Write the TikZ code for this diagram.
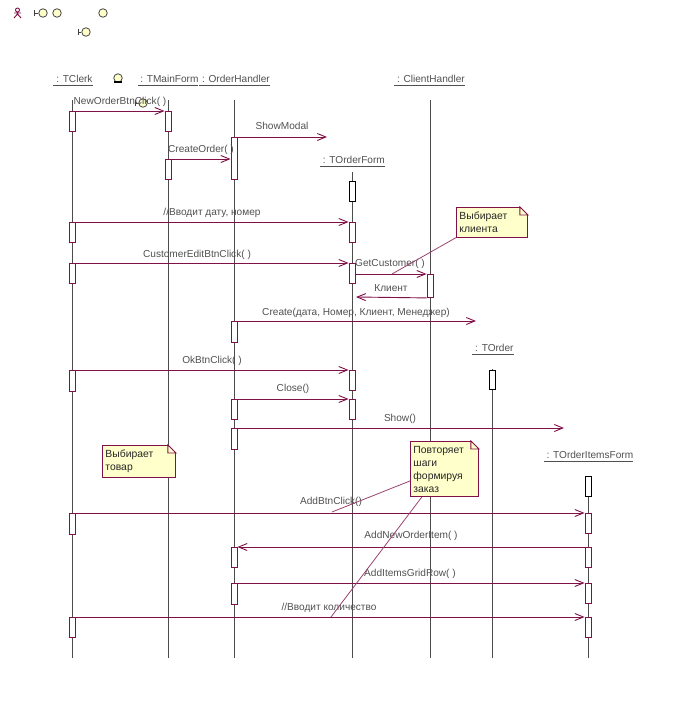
\documentclass[tikz,border=0pt]{standalone}
\usepackage{fontspec}
\setmainfont{Liberation Sans}
\usepackage{tikz}
\usetikzlibrary{arrows.meta}

\definecolor{umlline}{RGB}{128,16,72}
\definecolor{umlnote}{RGB}{255,255,204}
\definecolor{umltext}{RGB}{80,80,80}
\definecolor{umlicon}{RGB}{255,255,204}

\tikzset{
  headlabel/.style={rectangle, inner sep=0pt, yshift=-0.02cm, text=umltext, font=\fontsize{5.75}{7.4}\selectfont},
  msglabel/.style={rectangle, inner sep=0pt, yshift=-0.03cm, text=umltext, font=\fontsize{5.75}{7.4}\selectfont},
  actbox/.style={rectangle, draw=umlline, fill=white, line width=0.52pt, minimum width=0.12cm, minimum height=#1*0.02cm, inner sep=0pt, anchor=north},
  startbox/.style={actbox=#1, draw=black},
  notebox/.style={rectangle, draw=umlline, fill=umlnote, line width=0.52pt, anchor=north west, align=left, inner xsep=0.06cm, inner ysep=0.09cm, text width=#1*0.02cm, text=black!85, font=\fontsize{5.9}{7.4}\selectfont},
  iconball/.style={circle, draw=black!75, fill=umlicon, line width=0.45pt, minimum size=0.17cm, inner sep=0pt},
  lifeline/.style={draw=black!70, line width=0.45pt},
  msg/.style={draw=umlline, line width=0.52pt, ->},
  notelink/.style={draw=umlline!80, line width=0.45pt}
}

\begin{document}
\begin{tikzpicture}[x=0.02cm, y=-0.02cm, >={Straight Barb[length=0.17cm, width=0.14cm]}]
  \useasboundingbox (0,0) rectangle (700,714);

  % toolbar-like icons at the top
  \node (ballone) [iconball] at (43,13) {};
  \node (balltwo) [iconball] at (57,13) {};
  \node (ballthree) [iconball] at (103,13) {};
  \node (ballfour) [iconball] at (86,32) {};
  \node (ballfive) [iconball] at (118,78) {};
  \node (ballsix) [iconball] at (143,103) {};
  \draw[black!75, line width=0.45pt] (34,13) -- (ballone.west) (34,10) -- (34,16);
  \draw[black!75, line width=0.45pt] (78,32) -- (ballfour.west) (78,29) -- (78,35);
  \draw[black!75, line width=0.45pt] (135,103) -- (ballsix.west) (135,100) -- (135,106);
  \draw[black, line width=0.7pt] (114,82) -- (122,82);
  \draw[umlline, line width=0.52pt] (17.5,10) circle (2) (17.5,12) -- (17.5,14) (14,13) -- (21,13) (14,18) -- (17.5,14) -- (21,18);

  % lifelines
  \foreach \name/\x/\ytop in {clerk/72/100, main/168/100, handler/234/100, form/352/172, client/430/100, order/492/369, items/588/476}{
    \coordinate (\name top) at (\x,\ytop);
    \coordinate (\name end) at (\x,658);
    \draw[lifeline] (\name top) -- (\name end);
  }

  \node (clerkhead) [headlabel] at (73,80) {\underline{\ : TClerk}};
  \node (mainhead) [headlabel] at (168,80) {\underline{\ : TMainForm}};
  \node (handlerhead) [headlabel] at (234.5,80) {\underline{\ : OrderHandler}};
  \node (clienthead) [headlabel] at (429.5,80) {\underline{\ : ClientHandler}};
  \node (formhead) [headlabel] at (352.5,161) {\underline{\ : TOrderForm}};
  \node (orderhead) [headlabel] at (493,349) {\underline{\ : TOrder}};
  \node (itemshead) [headlabel] at (588.5,456) {\underline{\ : TOrderItemsForm}};

  % activation boxes
  \node (clerka) [actbox=20] at (72,111) {};
  \node (clerkb) [actbox=20] at (72,222) {};
  \node (clerkc) [actbox=20] at (72,263) {};
  \node (clerkd) [actbox=21] at (72,370) {};
  \node (clerke) [actbox=21] at (72,513) {};
  \node (clerkf) [actbox=20] at (72,617) {};
  \node (maina) [actbox=20] at (168,111) {};
  \node (mainb) [actbox=20] at (168,159) {};
  \node (handlera) [actbox=42] at (234,137) {};
  \node (handlerb) [actbox=21] at (234,321) {};
  \node (handlerc) [actbox=20] at (234,399) {};
  \node (handlerd) [actbox=21] at (234,428) {};
  \node (handlere) [actbox=20] at (234,547) {};
  \node (handlerf) [actbox=21] at (234,583) {};
  \node (forma) [startbox=20] at (352,181) {};
  \node (formb) [actbox=20] at (352,222) {};
  \node (formc) [actbox=20] at (352,263) {};
  \node (formd) [actbox=20] at (352,370) {};
  \node (forme) [actbox=20] at (352,399) {};
  \node (clienta) [actbox=23] at (430,274) {};
  \node (ordera) [startbox=19] at (492,370) {};
  \node (itemsa) [startbox=20] at (588,476) {};
  \node (itemsb) [actbox=20] at (588,513) {};
  \node (itemsc) [actbox=20] at (588,547) {};
  \node (itemsd) [actbox=20] at (588,583) {};
  \node (itemse) [actbox=20] at (588,617) {};

  % free ends of the messages
  \coordinate (showmodalend) at (327,137);
  \coordinate (backend) at (356,297);
  \coordinate (createend) at (476,321);
  \coordinate (showend) at (564,428);

  \draw[msg] (clerka.north east) -- (maina.north west);
  \draw[msg] (handlera.north east) -- (showmodalend);
  \draw[msg] (mainb.north east) -- (mainb.north east -| handlera.west);
  \draw[msg] (clerkb.north east) -- (formb.north west);
  \draw[msg] (clerkc.north east) -- (formc.north west);
  \draw[msg] (clienta.north west -| formc.east) -- (clienta.north west);
  \draw[msg] (clienta.south west) -- (backend);
  \draw[msg] (handlerb.north east) -- (createend);
  \draw[msg] (clerkd.north east) -- (formd.north west);
  \draw[msg] (handlerc.north east) -- (forme.north west);
  \draw[msg] (handlerd.north east) -- (showend);
  \draw[msg] (clerke.north east) -- (itemsb.north west);
  \draw[msg] (itemsc.north west) -- (handlere.north east);
  \draw[msg] (handlerf.north east) -- (itemsd.north west);
  \draw[msg] (clerkf.north east) -- (itemse.north west);

  % message labels
  \node (lblnew) [msglabel] at (120,100) {NewOrderBtnClick( )};
  \node (lblshowmodal) [msglabel] at (282,124) {ShowModal};
  \node (lblcreateorder) [msglabel] at (201,148) {CreateOrder( )};
  \node (lbldate) [msglabel] at (212,211) {//Вводит дату, номер};
  \node (lblcustomer) [msglabel] at (197,253) {CustomerEditBtnClick( )};
  \node (lblget) [msglabel] at (390,262) {GetCustomer( )};
  \node (lblback) [msglabel] at (391,287) {Клиент};
  \node (lblcreate) [msglabel] at (356,311) {Create(дата, Номер, Клиент, Менеджер)};
  \node (lblok) [msglabel] at (212,359) {OkBtnClick( )};
  \node (lblclose) [msglabel] at (293,387) {Close()};
  \node (lblshow) [msglabel] at (400,417) {Show()};
  \node (lbladd) [msglabel] at (331,500) {AddBtnClick()};
  \node (lblnewitem) [msglabel] at (411,534) {AddNewOrderItem( )};
  \node (lblgrid) [msglabel] at (410,572) {AddItemsGridRow( )};
  \node (lblqty) [msglabel] at (329,606) {//Вводит количество};

  % notes
  \node (noteclient) [notebox=65] at (456,207) {Выбирает\\клиента};
  \node (noteitem) [notebox=67] at (102,445) {Выбирает\\товар};
  \node (notestep) [notebox=62] at (410,441) {Повторяет\\шаги\\формируя\\заказ};
  \foreach \n in {noteclient, noteitem, notestep}{
    \fill[white] ([xshift=-0.16cm]\n.north east) -- (\n.north east) -- ([yshift=-0.16cm]\n.north east) -- cycle;
    \draw[draw=umlline, line width=0.52pt] ([xshift=-0.16cm]\n.north east) -- ([xshift=-0.16cm, yshift=-0.16cm]\n.north east) -- ([yshift=-0.16cm]\n.north east) -- cycle;
  }

  \coordinate (linkclient) at (392,274);
  \coordinate (linkadd) at (332,512);
  \coordinate (linkqty) at (331,617);
  \draw[notelink] (noteclient.south west) -- (linkclient);
  \draw[notelink] (notestep.199) -- (linkadd);
  \draw[notelink] (notestep.231) -- (linkqty);
\end{tikzpicture}
\end{document}
